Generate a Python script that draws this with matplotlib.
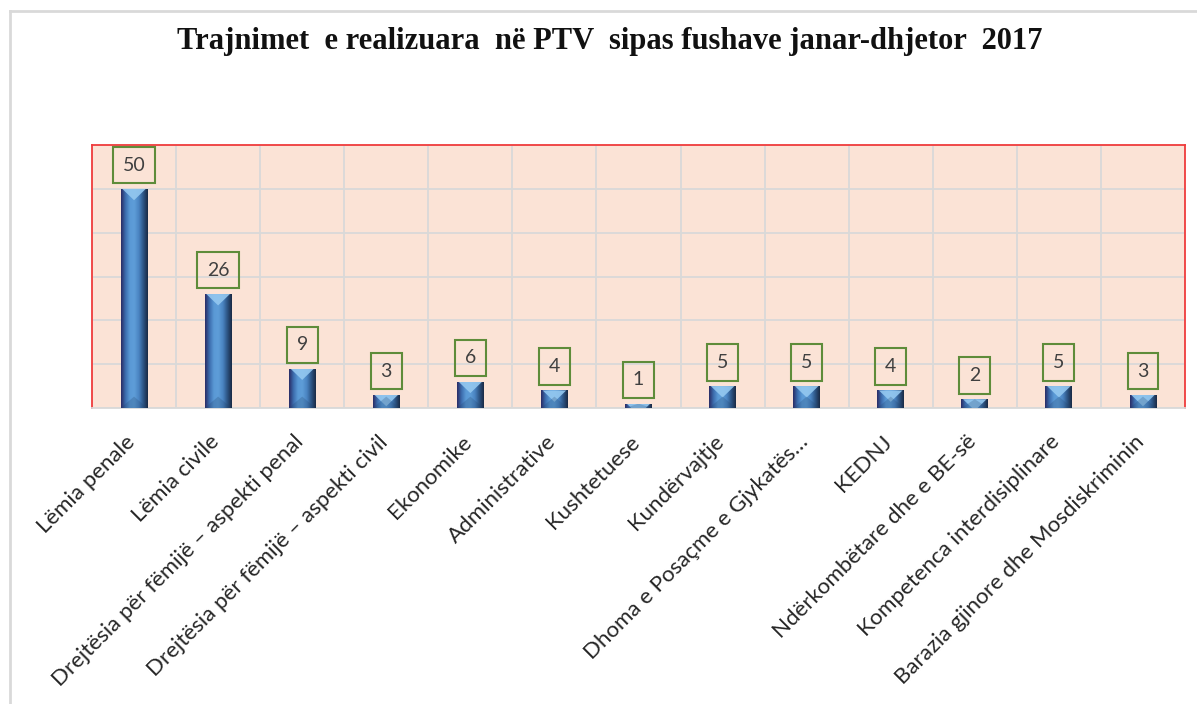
import matplotlib
matplotlib.use("Agg")
import matplotlib.pyplot as plt
import numpy as np
from matplotlib.colors import LinearSegmentedColormap
from matplotlib.patches import Polygon
from matplotlib.lines import Line2D
from matplotlib.transforms import ScaledTranslation

categories = [
    "Lëmia penale",
    "Lëmia civile",
    "Drejtësia për fëmijë – aspekti penal",
    "Drejtësia për fëmijë – aspekti civil",
    "Ekonomike",
    "Administrative",
    "Kushtetuese",
    "Kundërvajtje",
    "Dhoma e Posaçme e Gjykatës…",
    "KEDNJ",
    "Ndërkombëtare dhe e BE-së",
    "Kompetenca interdisiplinare",
    "Barazia gjinore dhe Mosdiskriminin",
]
values = [50, 26, 9, 3, 6, 4, 1, 5, 5, 4, 2, 5, 3]
title = "Trajnimet  e realizuara  në PTV  sipas fushave janar-dhjetor  2017"

W, H = 1197, 704
fig = plt.figure(figsize=(W / 100, H / 100), dpi=100)
fig.patch.set_facecolor("white")

# outer chart frame (left and top visible)
fig.add_artist(Line2D([10 / W, 10 / W], [0, 1 - 11 / H], transform=fig.transFigure,
                      color="#D9D9D9", lw=2))
fig.add_artist(Line2D([10 / W, 1], [1 - 11 / H, 1 - 11 / H], transform=fig.transFigure,
                      color="#D9D9D9", lw=2))

ax = fig.add_axes([92 / W, 1 - 408 / H, (1185 - 92) / W, (408 - 145) / H])
ax.set_facecolor("#FBE3D6")
n = len(categories)
x = np.arange(n)
ax.set_xlim(-0.5, n - 0.5)
ax.set_ylim(0, 60)

# grid
ax.set_yticks(np.arange(0, 61, 10))
ax.set_xticks(x)
ax.set_xticks(np.arange(-0.5, n, 1), minor=True)
ax.grid(axis="y", which="major", color="#D9D9D9", lw=1.3, zorder=0)
ax.grid(axis="x", which="minor", color="#D9D9D9", lw=1.3, zorder=0)
ax.set_axisbelow(True)
ax.tick_params(axis="y", left=False, labelleft=False)
ax.tick_params(axis="x", which="both", bottom=False, length=0)
for s in ax.spines.values():
    s.set_color("#F03C3C")
    s.set_linewidth(1.3)
ax.spines["bottom"].set_color("#D9D9D9")

bw = 0.32
bars = ax.bar(x, values, width=bw, color="#4A86C5", zorder=3)

cmap = LinearSegmentedColormap.from_list(
    "cyl", ["#2A2C66", "#3D6FB0", "#5B9AD6", "#5E9DD8", "#4A84C2", "#2D5585", "#1A2A45"])
grad = np.linspace(0, 1, 64).reshape(1, -1)
for b, v in zip(bars, values):
    x0 = b.get_x()
    x1 = x0 + b.get_width()
    im = ax.imshow(grad, cmap=cmap, extent=(x0, x1, 0, v), aspect="auto",
                   zorder=4, interpolation="bicubic")
    im.set_clip_path(b)
    d = 2.6
    tri = Polygon([[x0 + 0.02, v], [x1 - 0.02, v], [(x0 + x1) / 2, v - d]],
                  closed=True, facecolor="#94C8F0", edgecolor="none", zorder=5, alpha=0.9)
    ax.add_patch(tri)
    tri.set_clip_path(b)
    bot = Polygon([[x0, 0], [x1, 0], [(x0 + x1) / 2, min(d, v)]],
                  closed=True, facecolor="#23456E", edgecolor="none", zorder=5, alpha=0.25)
    ax.add_patch(bot)
    bot.set_clip_path(b)

for xi, v in zip(x, values):
    ax.annotate(str(v), (xi, v), xytext=(0, 11), textcoords="offset points",
                ha="center", va="bottom", fontsize=14, family="Lato", color="#404040",
                zorder=6,
                bbox=dict(boxstyle="square,pad=0.5", fc="none", ec="#5E8C3A", lw=1.5))

ax.set_xticklabels(categories, rotation=45, ha="right", rotation_mode="anchor",
                   fontsize=16, family="Lato", color="#262626")
ax.tick_params(axis="x", pad=17)
off = ScaledTranslation(-9 / 100, 0, fig.dpi_scale_trans)
for lbl in ax.get_xticklabels():
    lbl.set_transform(lbl.get_transform() + off)

fig.text(610 / W, 1 - 42 / H, title, ha="center", va="center", fontsize=22,
         fontweight="bold", family="Liberation Serif", color="#111111")

fig.savefig("out.png", dpi=100, facecolor="white")
